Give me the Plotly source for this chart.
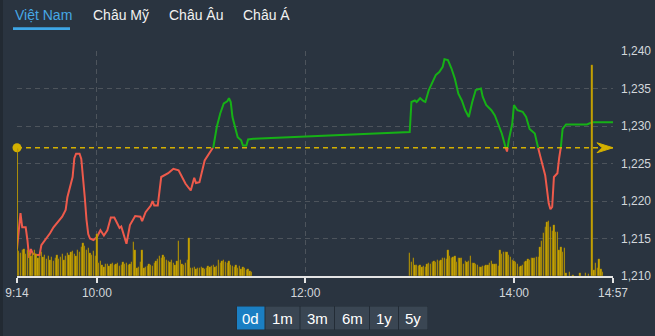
import plotly.graph_objects as go
import pandas as pd

DAY = "2024-01-02 "

# ---------------- data ----------------
tab_labels = ["Việt Nam", "Châu Mỹ", "Châu Âu", "Châu Á"]
range_buttons = ["0d", "1m", "3m", "6m", "1y", "5y"]

ref_value = 1227.1  # previous close

price_times = [
    "09:14", "09:16", "09:17", "09:19", "09:20", "09:21", "09:22", "09:23", "09:25", "09:27",
    "09:28", "09:31", "09:33", "09:35", "09:38", "09:40", "09:42", "09:43", "09:46", "09:47",
    "09:48", "09:50", "09:51", "09:52", "09:53", "09:54", "09:55", "09:56", "09:58", "10:00",
    "10:02", "10:04", "10:06", "10:08", "10:10", "10:13", "10:14", "10:17", "10:19", "10:22",
    "10:25", "10:26", "10:28", "10:31", "10:32", "10:33", "10:35", "10:37", "10:39", "10:41",
    "10:42", "10:44", "10:47", "10:49", "10:51", "10:54", "10:56", "10:57", "10:59", "11:02",
    "11:05", "11:07", "11:09", "11:11", "11:13", "11:15", "11:16", "11:17", "11:18", "11:20",
    "11:21", "11:23", "11:24", "11:26", "11:27", "11:30",
    "13:00", "13:01", "13:03", "13:04", "13:06", "13:08", "13:09", "13:11", "13:13", "13:15",
    "13:17", "13:19", "13:20", "13:22", "13:24", "13:26", "13:28", "13:30", "13:32", "13:34",
    "13:36", "13:38", "13:41", "13:42", "13:44", "13:47", "13:49", "13:51", "13:53", "13:55",
    "13:56", "13:57", "13:59", "14:00", "14:02", "14:05", "14:07", "14:09", "14:12", "14:14",
    "14:16", "14:18", "14:19", "14:20", "14:21", "14:22", "14:23", "14:25", "14:26", "14:27",
    "14:28", "14:30", "14:42", "14:45", "14:57",
]
price_values = [
    1213.6, 1218.4, 1216.5, 1216.5, 1214.8, 1212.4, 1213.6, 1213.0, 1212.8, 1212.8,
    1214.1, 1215.0, 1215.7, 1216.5, 1217.4, 1217.9, 1218.8, 1220.5, 1223.2, 1225.7,
    1226.3, 1226.3, 1225.6, 1223.5, 1220.5, 1217.5, 1215.6, 1215.0, 1214.8, 1215.2,
    1216.1, 1215.4, 1216.1, 1217.8, 1217.8, 1216.4, 1216.6, 1214.3, 1216.8, 1218.0,
    1217.9, 1217.3, 1218.5, 1219.4, 1220.0, 1219.4, 1219.4, 1223.2, 1223.4, 1223.7,
    1223.9, 1224.3, 1224.1, 1223.2, 1222.3, 1221.4, 1223.1, 1222.4, 1222.5, 1225.4,
    1226.5, 1227.2, 1229.9, 1231.7, 1233.0, 1233.3, 1233.7, 1233.2, 1231.2, 1229.2,
    1228.5, 1228.1, 1227.4, 1227.4, 1228.2, 1228.3,
    1229.2, 1233.2, 1233.4, 1233.2, 1233.7, 1233.3, 1233.2, 1234.8, 1235.9, 1236.8,
    1237.2, 1237.9, 1238.9, 1238.8, 1237.7, 1236.3, 1234.3, 1233.4, 1232.1, 1231.2,
    1233.2, 1234.8, 1235.0, 1233.9, 1232.8, 1232.1, 1231.4, 1230.1, 1229.0, 1227.3,
    1226.6, 1228.1, 1230.3, 1232.8, 1232.1, 1231.9, 1231.2, 1229.6, 1229.0, 1227.0,
    1225.2, 1223.4, 1221.4, 1219.7, 1218.9, 1219.2, 1223.2, 1223.7, 1225.7, 1227.2,
    1229.6, 1230.2, 1230.2, 1230.5, 1230.5,
]

# per-minute volume (relative units), morning session starting 09:14
vol_morning_start = "09:14"
vol_morning = [
    128,
    25, 23, 26, 27, 22, 26, 24, 20, 23, 26,
    22, 18, 20, 24, 19, 21, 17, 20, 16, 19,
    15, 18, 21, 17, 19, 22, 16, 20, 23, 21,
    24, 25, 22, 20, 26, 24, 29, 33, 30, 26,
    28, 23, 21, 25, 20,
    42,
    13, 15, 11, 9, 12, 12, 10, 12, 13, 11,
    12, 13, 10, 11, 14, 12, 13, 11, 12, 14,
    34, 26, 8, 9, 14, 26, 8, 9, 10, 12,
    11, 10, 13, 15, 17, 20, 18, 21, 19, 16,
    15, 14, 16, 13, 11, 15, 35, 16, 12, 11,
    13, 16, 38, 8, 8, 9, 7, 8, 8, 9,
    8, 7, 8, 10, 9, 10, 11, 9, 10, 16,
    13, 15, 16, 14, 13, 15, 11, 10, 9, 11,
    8, 10, 7, 9, 8, 6, 7, 5, 4,
]
vol_afternoon_start = "13:00"
vol_afternoon = [
    23, 14, 18, 11, 11, 10, 11, 9, 10, 9,
    12, 13, 12, 14, 15, 14, 16, 15, 16, 18,
    18, 17, 26, 20, 18, 19, 20, 14, 18, 18,
    18, 12, 15, 14, 15, 20, 13, 13, 12, 11,
    9, 9, 10, 10, 11, 11, 13, 15, 12, 12,
    12, 10, 26, 22, 24, 24, 24, 21, 19, 16,
    15, 14, 12, 9, 10, 11, 14, 15, 17, 16,
    18, 18, 18, 19, 19, 29, 35, 43, 49, 54,
    55, 49, 45, 51, 44, 44, 26, 29, 24, 28,
]
vol_late_times = ["14:30", "14:32", "14:34", "14:38", "14:41", "14:43", "14:45",
                  "14:46", "14:47", "14:48", "14:49", "14:50", "14:51"]
vol_late = [3, 4, 1, 3, 3, 2, 211, 6, 13, 8, 17, 7, 4]

x_tick_labels = ["9:14", "10:00", "12:00", "14:00", "14:57"]
y_tick_values = [1210, 1215, 1220, 1225, 1230, 1235, 1240]

# ---------------- layout constants ----------------
W, H = 655, 336
ML, MR, MT, MB = 17, 42, 51, 60
PW, PH = W - ML - MR, H - MT - MB
BG = "#2a3440"
GRID = "#4d545c"
GOLD = "#d4b000"
RED = "#ee5a4b"
GREEN = "#16b116"


def px_x(px):
    return (px - ML) / PW


def px_y(py):
    return (H - MB - py) / PH


def ts(hm):
    return pd.Timestamp(DAY + hm)


# ---------------- price line split by reference ----------------
mins = [(ts(t) - ts("09:14")).total_seconds() / 60 for t in price_times]
pts = []
for i, (m, v) in enumerate(zip(mins, price_values)):
    if i > 0:
        m0, v0 = mins[i - 1], price_values[i - 1]
        if (v0 - ref_value) * (v - ref_value) < 0:
            f = (ref_value - v0) / (v - v0)
            pts.append((m0 + f * (m - m0), ref_value))
    pts.append((m, v))

base = ts("09:14")
px_t = [base + pd.Timedelta(minutes=m) for m, _ in pts]
green_y = [v if v >= ref_value - 1e-9 else None for _, v in pts]
red_y = [v if v <= ref_value + 1e-9 else None for _, v in pts]

# ---------------- volume ----------------
vt = list(pd.date_range(DAY + vol_morning_start, periods=len(vol_morning), freq="min"))
vt += list(pd.date_range(DAY + vol_afternoon_start, periods=len(vol_afternoon), freq="min"))
vt += [ts(t) for t in vol_late_times]
vv = vol_morning + vol_afternoon + vol_late

fig = go.Figure()
fig.add_trace(go.Bar(
    x=vt, y=vv, yaxis="y2", width=46000,
    marker=dict(color="#c9a504", line=dict(color="rgba(110,92,10,0.6)", width=0.3)),
    hoverinfo="skip", showlegend=False,
))
fig.add_trace(go.Scatter(x=px_t, y=red_y, mode="lines", line=dict(color=RED, width=2),
                         connectgaps=False, showlegend=False))
fig.add_trace(go.Scatter(x=px_t, y=green_y, mode="lines", line=dict(color=GREEN, width=2),
                         connectgaps=False, showlegend=False))
# reference dot
fig.add_trace(go.Scatter(x=[ts("09:14")], y=[ref_value], mode="markers",
                         marker=dict(color=GOLD, size=9), cliponaxis=False, showlegend=False))

shapes = []
# reference dashed line
shapes.append(dict(type="line", xref="x", yref="y", x0=ts("09:14"), x1=ts("14:57"),
                   y0=ref_value, y1=ref_value, line=dict(color=GOLD, width=1.3, dash="5px,4px"),
                   layer="above"))
# arrow at right end
shapes.append(dict(type="path", xref="x", yref="y", xsizemode="pixel", ysizemode="pixel",
                   xanchor=ts("14:57"), yanchor=ref_value,
                   path="M-16,5 L0,0 L-16,-5 L-11,0 Z",
                   fillcolor=GOLD, line=dict(color=GOLD, width=1), layer="above"))
# left dark strip
shapes.append(dict(type="rect", xref="paper", yref="paper", x0=px_x(0), x1=px_x(3),
                   y0=px_y(H), y1=px_y(0), fillcolor="#222a33", line=dict(width=0), layer="below"))
# tab underline
shapes.append(dict(type="rect", xref="paper", yref="paper", x0=px_x(13), x1=px_x(70),
                   y0=px_y(30), y1=px_y(27.3), fillcolor="#3ea6e6", line=dict(width=0)))

annotations = []
tab_x = [13, 90.5, 166.5, 240.5]
for lbl, x in zip(tab_labels, tab_x):
    annotations.append(dict(text=lbl, xref="paper", yref="paper", x=px_x(x), y=px_y(15.5),
                            xanchor="left", yanchor="middle", showarrow=False,
                            font=dict(family="Liberation Sans, Arial", size=14,
                                      color="#46a8e6" if lbl == "Việt Nam" else "#f2f2f2")))

# range buttons
edges = [236.5, 265, 300, 334.5, 369.5, 398.5, 428]
shapes.append(dict(type="rect", xref="paper", yref="paper", x0=px_x(edges[0]), x1=px_x(edges[-1]),
                   y0=px_y(330), y1=px_y(306), fillcolor="#232c36", line=dict(width=0)))
for i, lbl in enumerate(range_buttons):
    x0, x1 = edges[i], edges[i + 1]
    active = i == 0
    shapes.append(dict(type="rect", xref="paper", yref="paper",
                       x0=px_x(x0 + 0.5), x1=px_x(x1 - 0.5), y0=px_y(329.5), y1=px_y(306.5),
                       fillcolor="#1b7fc3" if active else "#3a4653",
                       line=dict(width=0)))
    annotations.append(dict(text=lbl, xref="paper", yref="paper", x=px_x((x0 + x1) / 2),
                            y=px_y(318.5), xanchor="center", yanchor="middle", showarrow=False,
                            font=dict(family="Liberation Sans, Arial", size=15, color="#ffffff")))

x_tick_vals = [ts(t if len(t) == 5 else "0" + t) for t in x_tick_labels]

fig.update_layout(
    width=W, height=H, margin=dict(l=ML, r=MR, t=MT, b=MB, autoexpand=False),
    paper_bgcolor=BG, plot_bgcolor=BG,
    shapes=shapes, annotations=annotations, bargap=0,
    font=dict(family="Liberation Sans, Arial", size=12, color="#d3d7db"),
    xaxis=dict(type="date", range=[ts("09:14"), ts("14:57")], tickvals=x_tick_vals,
               ticktext=x_tick_labels, showgrid=True, gridcolor=GRID, griddash="5px,4px",
               gridwidth=1, showline=True, linecolor="#e4e4e4", linewidth=2,
               ticks="outside", ticklen=5, tickcolor="#e4e4e4", tickwidth=1.5,
               tickfont=dict(size=12, color="#d3d7db"), zeroline=False, fixedrange=True,
               automargin=False),
    yaxis=dict(range=[1210, 1240], side="right", tickvals=y_tick_values,
               ticktext=[f"{v:,}" for v in y_tick_values], showgrid=True, gridcolor=GRID,
               griddash="5px,4px", gridwidth=1, zeroline=False, ticks="",
               ticklabelstandoff=7, tickfont=dict(size=12, color="#d3d7db"), fixedrange=True,
               automargin=False),
    yaxis2=dict(range=[0, 225], overlaying="y", visible=False, fixedrange=True,
                automargin=False),
    showlegend=False,
)

fig.write_html("out.html")
